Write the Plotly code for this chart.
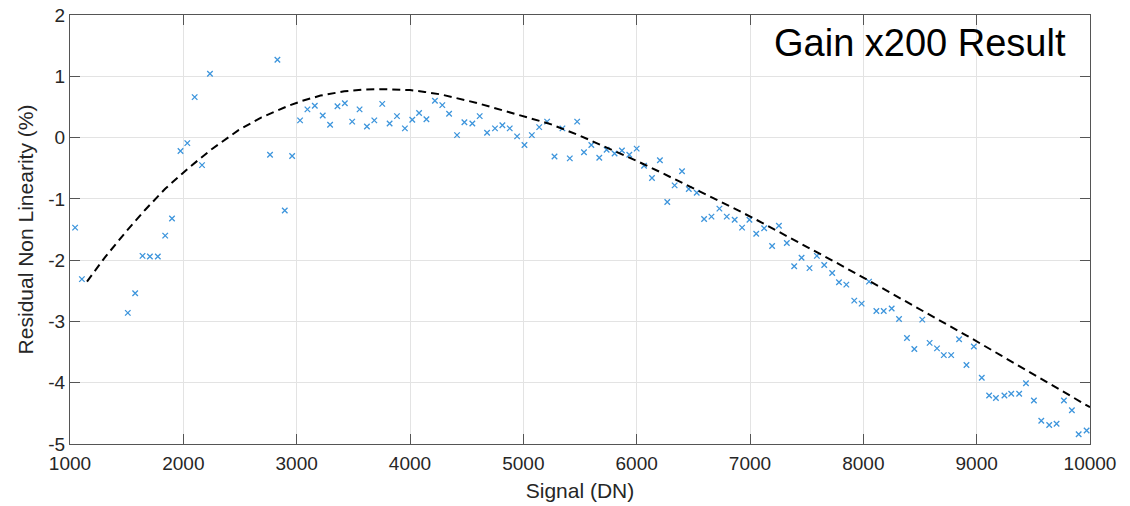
import plotly.graph_objects as go

# Measured residual non-linearity (%) vs. signal level (DN)
signal_dn = [
    1045, 1105, 1510, 1575, 1640, 1705, 1775, 1840, 1900, 1975, 2035, 2100, 2165, 2235,
    2765, 2830, 2895, 2960, 3030, 3095, 3160, 3230, 3295, 3360,
    3425, 3490, 3555, 3620, 3685, 3755, 3820, 3885, 3955, 4020,
    4080, 4145, 4220, 4285, 4345, 4415, 4480, 4550, 4615, 4680,
    4750, 4815, 4880, 4945, 5010, 5075, 5140, 5210, 5275, 5345,
    5410, 5475, 5535, 5600, 5670, 5735, 5805, 5870, 5935, 6000,
    6065, 6135, 6205, 6270, 6335, 6400, 6460, 6530, 6595, 6660,
    6730, 6795, 6865, 6930, 6995, 7055, 7125, 7195, 7255, 7325,
    7390, 7455, 7525, 7590, 7655, 7725, 7785, 7850, 7920, 7985,
    8050, 8115,
    8180, 8250, 8315, 8385, 8450, 8520, 8585, 8650, 8710, 8775,
    8845, 8910, 8975, 9045, 9110, 9170, 9245, 9305, 9375, 9435,
    9505, 9570, 9640, 9705, 9770, 9840, 9900, 9970,
]
residual_pct = [
    -1.47, -2.31, -2.86, -2.54, -1.93, -1.94, -1.94, -1.60, -1.32, -0.22, -0.09, 0.66, -0.45, 1.04,
    -0.28, 1.27, -1.19, -0.30, 0.28, 0.46, 0.52, 0.36, 0.21, 0.51,
    0.56, 0.26, 0.46, 0.18, 0.28, 0.55, 0.23, 0.35, 0.15, 0.29,
    0.40, 0.30, 0.60, 0.53, 0.39, 0.04, 0.25, 0.23, 0.35, 0.08,
    0.15, 0.20, 0.15, 0.02, -0.12, 0.04, 0.17, 0.26, -0.31, 0.15,
    -0.34, 0.26, -0.24, -0.12, -0.33, -0.20, -0.26, -0.21, -0.28, -0.18,
    -0.46, -0.66, -0.37, -1.05, -0.78, -0.55, -0.84, -0.90, -1.33, -1.29,
    -1.16, -1.29, -1.34, -1.47, -1.34, -1.57, -1.48, -1.77, -1.44, -1.72,
    -2.10, -1.96, -2.13, -1.93, -2.08, -2.21, -2.36, -2.40, -2.66, -2.71,
    -2.35, -2.83,
    -2.83, -2.79, -2.96, -3.27, -3.45, -2.97, -3.35, -3.44, -3.55, -3.55,
    -3.29, -3.71, -3.41, -3.92, -4.21, -4.25, -4.21, -4.18, -4.18, -4.01,
    -4.29, -4.62, -4.69, -4.67, -4.29, -4.45, -4.84, -4.78,
]

# Fitted trend curve
fit_dn = [
    1150, 1310, 1490, 1660, 1840, 2050, 2250, 2490, 2690, 2930, 3050, 3210, 3420, 3600,
    3770, 4000, 4130, 4270, 4590, 4910, 5240, 5500, 5770, 6000, 6210, 6410, 6620, 6860,
    7060, 7270, 7500, 7770, 8030, 8330, 8620, 8920, 9210, 9500, 9800, 10000,
]
fit_pct = [
    -2.35, -1.95, -1.545, -1.185, -0.835, -0.49, -0.19, 0.125, 0.33, 0.52, 0.60, 0.685, 0.755, 0.785,
    0.79, 0.775, 0.745, 0.705, 0.565, 0.40, 0.22, 0.03, -0.19, -0.38, -0.565, -0.745, -0.935, -1.155,
    -1.345, -1.55, -1.78, -2.05, -2.315, -2.625, -2.925, -3.24, -3.55, -3.86, -4.18, -4.40,
]

x_ticks = [1000, 2000, 3000, 4000, 5000, 6000, 7000, 8000, 9000, 10000]
y_ticks = [2, 1, 0, -1, -2, -3, -4, -5]

FONT = "Liberation Sans, Arial, Helvetica, sans-serif"
TXT = "#262626"
AX = "#555555"
GRID = "#e3e3e3"

fig = go.Figure()
fig.add_trace(go.Scatter(
    x=signal_dn, y=residual_pct, mode="markers",
    marker=dict(symbol="x-thin", size=5.5, color="#3d95dc",
                line=dict(color="#3d95dc", width=1.3)),
    showlegend=False, hoverinfo="skip",
))
fig.add_trace(go.Scatter(
    x=fit_dn, y=fit_pct, mode="lines",
    line=dict(color="black", width=2, dash="8px,5px", shape="linear"),
    showlegend=False, hoverinfo="skip",
))

fig.add_annotation(
    x=9810, y=1.55, xref="x", yref="y", text="Gain x200 Result",
    showarrow=False, xanchor="right", yanchor="middle",
    font=dict(family=FONT, size=38, color="black"),
)

fig.update_layout(
    width=1130, height=506,
    margin=dict(l=70, r=40, t=15, b=62, pad=0),
    paper_bgcolor="white", plot_bgcolor="white",
    font=dict(family=FONT, color=TXT),
)
fig.update_xaxes(
    range=[1000, 10000], tickvals=x_ticks, ticktext=[str(v) for v in x_ticks],
    automargin=False,
    showgrid=True, gridcolor=GRID, gridwidth=1, zeroline=False,
    showline=True, linecolor=AX, linewidth=1, mirror="ticks",
    ticks="inside", ticklen=10, tickcolor=AX, tickwidth=1,
    tickfont=dict(family=FONT, size=19, color=TXT), ticklabelstandoff=2,
    title=dict(text="Signal (DN)", font=dict(family=FONT, size=21, color=TXT), standoff=10),
)
fig.update_yaxes(
    range=[-5, 2], tickvals=y_ticks, ticktext=[str(v) for v in y_ticks],
    automargin=False,
    showgrid=True, gridcolor=GRID, gridwidth=1, zeroline=False,
    showline=True, linecolor=AX, linewidth=1, mirror="ticks",
    ticks="inside", ticklen=10, tickcolor=AX, tickwidth=1,
    tickfont=dict(family=FONT, size=19, color=TXT),
    title=dict(text="Residual Non Linearity (%)", font=dict(family=FONT, size=21, color=TXT), standoff=8),
)

fig.write_html("out.html")
